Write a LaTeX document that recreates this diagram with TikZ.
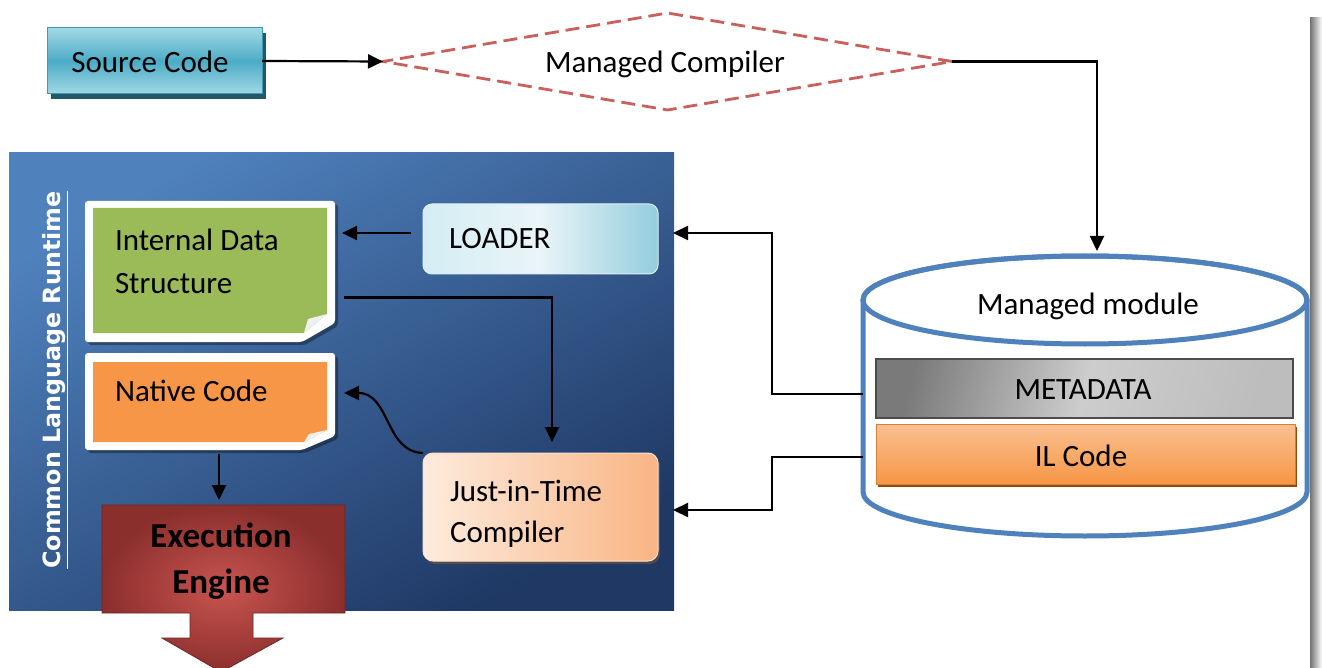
\documentclass[tikz,border=0pt]{standalone}
\usepackage{fontspec}
\setmainfont{Carlito}
\newfontfamily\clrfont{DejaVu Sans}
\usetikzlibrary{arrows.meta,shapes.geometric,shadows}

\definecolor{srcA}{HTML}{A3D8E6}
\definecolor{srcB}{HTML}{4BACC6}
\definecolor{srcLine}{HTML}{3C9AB4}
\definecolor{srcShadow}{HTML}{215968}
\definecolor{mcRed}{HTML}{C9605C}
\definecolor{panelA}{HTML}{4F81BD}
\definecolor{panelB}{HTML}{1F3864}
\definecolor{noteGreen}{HTML}{9BBB59}
\definecolor{noteOrange}{HTML}{F79646}
\definecolor{loadA}{HTML}{D4EDF4}
\definecolor{loadB}{HTML}{93CDDD}
\definecolor{jitA}{HTML}{FDEBDD}
\definecolor{jitB}{HTML}{F9B584}
\definecolor{execA}{HTML}{C9544F}
\definecolor{execB}{HTML}{8B2F2D}
\definecolor{cylBlue}{HTML}{4F81BD}
\definecolor{ilA}{HTML}{FAC090}
\definecolor{ilB}{HTML}{F79646}
\definecolor{ilDark}{HTML}{984807}
\definecolor{metaDark}{HTML}{7A7A7A}
\definecolor{metaLight}{HTML}{CDCDCD}
\definecolor{metaMid}{HTML}{BDBDBD}

\begin{document}
\begin{tikzpicture}[x=1pt,y=-1pt,
  every node/.style={inner sep=0pt, outer sep=0pt},
  txt/.style={font=\fontsize{31}{43}\selectfont, text=black},
  arr/.style={line width=2.2pt, -{Triangle[length=15pt,width=14pt]}},
  noteshadow/.style={fill=black, opacity=0.35, rounded corners=3pt},
  noteframe/.style={fill=white, rounded corners=3pt},
  cylline/.style={draw=cylBlue, line width=5pt}
]
\useasboundingbox (0,0) rectangle (1322,668);
\clip (0,0) rectangle (1322,668);

% frame shadow on the right
\shade[left color=black!55, right color=white] (1310,18) rectangle (1322,668);

% Source code
\node[txt, minimum width=215pt, minimum height=66pt, draw=srcLine, line width=1pt,
      top color=srcA, bottom color=srcA, middle color=srcB,
      drop shadow={shadow xshift=4pt, shadow yshift=-5pt, fill=srcShadow, opacity=1}]
      (src) at (154.5,61) {};
\node[txt] (srcT) at (150,62) {Source Code};

% Managed compiler
\node[diamond, draw=mcRed, line width=2.8pt, dash pattern=on 14pt off 7pt,
      minimum width=569pt, minimum height=97pt, aspect=5.87]
      (mc) at (667.5,61.5) {};
\node[txt] (mcT) at (665,64) {Managed Compiler};

\draw[arr] (src.east) -- (mc.west);

% CLR panel
\node[minimum width=665pt, minimum height=457pt, top color=panelA, bottom color=panelB, shading angle=30]
      (clr) at (341.5,381.5) {};
\node[rotate=90, text=white, font=\clrfont\bfseries\fontsize{23.8}{28}\selectfont]
      (clrlbl) at (55,380) {\underline{Common Language Runtime}};

% Internal data structure note
\fill[noteshadow] (88,204) -- (338,204) -- (338,326) -- (305,345) -- (88,345) -- cycle;
\fill[noteframe] (85,201) -- (335,201) -- (335,323) -- (302,342) -- (85,342) -- cycle;
\fill[noteGreen] (93,208) -- (327,208) -- (327,314) -- (304,333) -- (93,333) -- cycle;
\fill[white!88!gray] (304,333) -- (308,319) -- (327,314) -- cycle;
\node[minimum width=250pt, minimum height=141pt] (ids) at (210,271.5) {};
\node[txt, anchor=west, align=left] (idsT) at (115,261.5) {Internal Data\\Structure};

% Native code note
\fill[noteshadow] (88,356) -- (338,356) -- (338,439) -- (305,453) -- (88,453) -- cycle;
\fill[noteframe] (85,353) -- (335,353) -- (335,436) -- (302,450) -- (85,450) -- cycle;
\fill[noteOrange] (93,362) -- (327,362) -- (327,430) -- (304,442) -- (93,442) -- cycle;
\fill[white!88!gray] (304,442) -- (309,434) -- (327,430) -- cycle;
\node[minimum width=250pt, minimum height=97pt] (native) at (210,401.5) {};
\node[txt, anchor=west] (nativeT) at (115,391) {Native Code};

% Loader
\node[txt, minimum height=70pt, text width=183pt, inner xsep=26pt, align=left,
      rounded corners=9pt, draw=white!70!loadB, line width=1pt,
      left color=loadA, right color=loadB, middle color=white!80!loadB]
      (loader) at (540.5,239) {LOADER};

% JIT
\node[minimum width=235pt, minimum height=108pt, rounded corners=10pt,
      left color=jitA, right color=jitB, draw=white!60!jitB, line width=1pt,
      drop shadow={shadow xshift=2pt, shadow yshift=-3pt, fill=brown!70!black, opacity=.5}]
      (jit) at (540.5,507) {};
\node[txt, anchor=west, align=left, font=\fontsize{31}{41}\selectfont]
      (jitT) at (450,513.5) {Just-in-Time\\Compiler};

% Execution engine
\shadedraw[inner color=execA, outer color=execB, draw=execB!80!black, line width=0.8pt]
  (102,505) -- (345,505) -- (345,613) -- (253,613) -- (253,638) -- (283,638) -- (221,672)
  -- (162,638) -- (190,638) -- (190,613) -- (102,613) -- cycle;
\node[minimum width=243pt, minimum height=108pt] (exec) at (223.5,559) {};
\node[font=\bfseries\fontsize{35}{46}\selectfont, align=center, text=black]
      (execT) at (221,561) {Execution\\Engine};

% Managed module cylinder
\filldraw[fill=white, cylline] (863,300) -- (863,492)
   arc[start angle=180, end angle=360, x radius=222pt, y radius=44pt] -- (1307,300)
   arc[start angle=0, end angle=180, x radius=222pt, y radius=44pt] -- cycle;
\draw[cylline] (1085,300) ellipse [x radius=222pt, y radius=44pt];
\node[minimum width=444pt, minimum height=280pt] (cyl) at (1085,396) {};
\node[txt] (mmT) at (1088,306) {Managed module};

\node[minimum width=417pt, minimum height=59pt, draw=gray!60!black, line width=1.2pt,
      left color=metaDark, right color=metaMid, middle color=metaLight, shading angle=75]
      (meta) at (1084.5,388.5) {};
\node[txt] (metaT) at (1083,390) {METADATA};
\node[minimum width=419pt, minimum height=60pt, top color=ilA, bottom color=ilB,
      draw=ilB!85!black, line width=0.8pt,
      drop shadow={shadow xshift=2pt, shadow yshift=-3pt, fill=ilDark, opacity=1}]
      (il) at (1085.5,454) {};
\node[txt] (ilT) at (1081,456) {IL Code};

% connectors
\coordinate (mmIn) at (1097,251);
\draw[arr] (mc.east) -| (mmIn);

\coordinate (m1) at (863,394);
\coordinate (m2) at (863,457);
\coordinate (p1) at (673,233);
\coordinate (p2) at (673,510);
\draw[arr] (m1) -- (772,394) |- (p1);
\draw[arr] (m2) -- (772,457) |- (p2);

\draw[arr, shorten <=12pt, shorten >=7pt] ([yshift=6pt]loader.west) -- ([yshift=6pt]loader.west -| ids.east);
\draw[arr, shorten <=9pt, shorten >=11pt] ([yshift=-26pt]ids.east) -| ([xshift=11.5pt]jit.north);
\draw[arr] (jit.north west) .. controls (385,452) and (390,393) .. ([xshift=9pt,yshift=8.5pt]native.east);
\coordinate (x219) at (219,0);
\draw[arr, shorten <=4pt, shorten >=5pt] (native.south -| x219) -- (exec.north -| x219);
\end{tikzpicture}
\end{document}
